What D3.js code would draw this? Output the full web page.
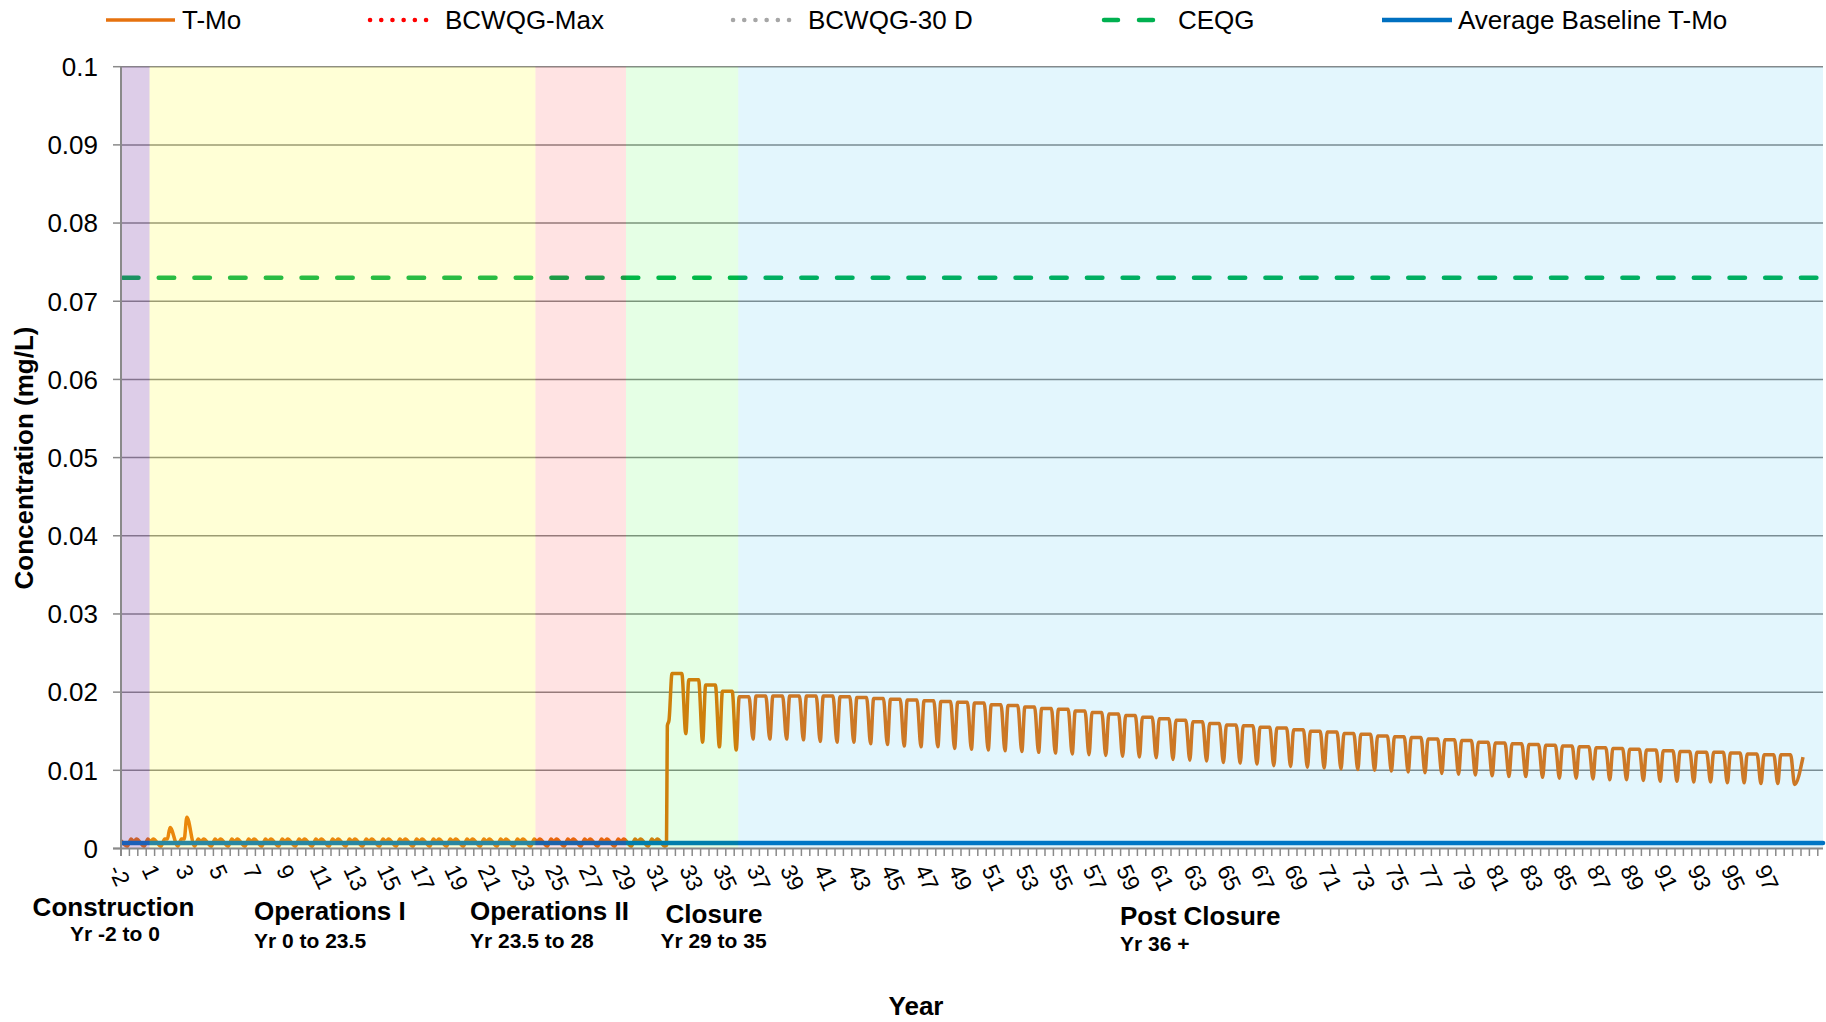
<!DOCTYPE html>
<html><head><meta charset="utf-8">
<script src="https://cdn.jsdelivr.net/npm/d3@7"></script>
<style>
html,body{margin:0;padding:0;background:#fff}
svg{display:block;font-family:"Liberation Sans",Arial,sans-serif}
</style>
</head><body>
<svg id="chart" width="1826" height="1022"></svg>
<script>
// ---------------- DATA ----------------
const yTicks = [0,0.01,0.02,0.03,0.04,0.05,0.06,0.07,0.08,0.09,0.1];
const yTickLabels = ["0","0.01","0.02","0.03","0.04","0.05","0.06","0.07","0.08","0.09","0.1"];
const xTickYears = [-2,0,2,4,6,8,10,12,14,16,18,20,22,24,26,28,30,32,34,36,38,40,42,44,46,48,50,52,54,56,58,60,62,64,66,68,70,72,74,76,78,80,82,84,86,88,90,92,94,96];
const xTickLabels = ["-2","1","3","5","7","9","11","13","15","17","19","21","23","25","27","29","31","33","35","37","39","41","43","45","47","49","51","53","55","57","59","61","63","65","67","69","71","73","75","77","79","81","83","85","87","89","91","93","95","97"];

const seriesNames = ["T-Mo","BCWQG-Max","BCWQG-30 D","CEQG","Average Baseline T-Mo"];
const phaseNames = ["Construction","Operations I","Operations II","Closure","Post Closure"];
const phaseRanges = ["Yr -2 to 0","Yr 0 to 23.5","Yr 23.5 to 28","Yr 29 to 35","Yr 36 +"];
const phaseBounds = [[-2,-0.3],[-0.3,22.67],[22.67,28.06],[28.06,34.74],[34.74,99.31]];

const baselineTMo = 0.0007;
const ceqgValue = 0.073;
const bcwqgMaxValue = 2.0;
const bcwqg30dValue = 1.0;

// T-Mo, operations period: one seasonal cycle per year
const preYears  = [-2,-1,0,1,2,3,4,5,6,7,8,9,10,11,12,13,14,15,16,17,18,19,20,21,22,23,24,25,26,27,28,29];
const preDip    = [0.0003,0.0003,0.0003,0.0003,0.0003,0.0003,0.0003,0.0003,0.0003,0.0003,0.0003,0.0003,0.0003,0.0003,0.0003,0.0003,0.0003,0.0003,0.0003,0.0003,0.0003,0.0003,0.0003,0.0003,0.0003,0.0003,0.0003,0.0003,0.0003,0.0003,0.0003,0.0003];
const preBump1  = [0.0012,0.0012,0.0012,0.0012,0.0012,0.0012,0.0012,0.0012,0.0012,0.0012,0.0012,0.0012,0.0012,0.0012,0.0012,0.0012,0.0012,0.0012,0.0012,0.0012,0.0012,0.0012,0.0012,0.0012,0.0012,0.0012,0.0012,0.0012,0.0012,0.0012,0.0012,0.0012];
const preMid    = [0.0009,0.0009,0.0012,0.0012,0.0009,0.0009,0.0009,0.0009,0.0009,0.0009,0.0009,0.0009,0.0009,0.0009,0.0009,0.0009,0.0009,0.0009,0.0009,0.0009,0.0009,0.0009,0.0009,0.0009,0.0009,0.0009,0.0009,0.0009,0.0009,0.0009,0.0009,0.0009];
const preBump2  = [0.0012,0.0012,0.0027,0.0040,0.0012,0.0012,0.0012,0.0012,0.0012,0.0012,0.0012,0.0012,0.0012,0.0012,0.0012,0.0012,0.0012,0.0012,0.0012,0.0012,0.0012,0.0012,0.0012,0.0012,0.0012,0.0012,0.0012,0.0012,0.0012,0.0012,0.0012,0.0012];
const startYear = -2, startValue = 0.0010;
// step up at closure
const jumpYears  = [30.38,30.47,30.52,30.62];
const jumpValues = [0.0003,0.0004,0.0157,0.0164];
// closure / post closure cycles
const cycleYears = [31,32,33,34,35,36,37,38,39,40,41,42,43,44,45,46,47,48,49,50,51,52,53,54,55,56,57,58,59,60,61,62,63,64,65,66,67,68,69,70,71,72,73,74,75,76,77,78,79,80,81,82,83,84,85,86,87,88,89,90,91,92,93,94,95,96,97];
const cyclePeak = [
 0.0224,0.0216,0.0209,0.0201,
 0.0194,0.0195,0.0195,0.0195,0.0195,0.0195,
 0.0194,0.0193,0.0192,0.0191,0.0190,
 0.0189,0.0188,0.0187,0.0186,0.0184,
 0.0183,0.0181,0.0179,0.0178,0.0176,
 0.0174,0.0172,0.0170,0.0168,0.0166,
 0.0164,0.0162,0.0160,0.0158,0.0157,
 0.0155,0.0154,0.0152,0.0150,0.0149,
 0.0147,0.0146,0.0144,0.0143,0.0142,
 0.0140,0.0139,0.0138,0.0136,0.0135,
 0.0134,0.0133,0.0132,0.0131,0.0130,
 0.0129,0.0128,0.0127,0.0126,0.0125,
 0.0124,0.0123,0.0123,0.0122,0.0121,
 0.0120,0.0120];
const cycleTrough = [
 0.0147,0.0136,0.0130,0.0126,
 0.0140,0.0140,0.0140,0.0139,0.0137,0.0136,
 0.0136,0.0134,0.0133,0.0131,0.0130,
 0.0130,0.0128,0.0127,0.0126,0.0125,
 0.0124,0.0123,0.0122,0.0121,0.0120,
 0.0119,0.0118,0.0117,0.0116,0.0114,
 0.0113,0.0112,0.0110,0.0109,0.0108,
 0.0106,0.0105,0.0104,0.0103,0.0102,
 0.0101,0.0100,0.0099,0.0098,0.0097,
 0.0096,0.0095,0.0094,0.0093,0.0092,
 0.0092,0.0091,0.0090,0.0090,0.0089,
 0.0088,0.0088,0.0087,0.0086,0.0086,
 0.0085,0.0085,0.0084,0.0084,0.0083,
 0.0083,0.0082];
const endYear = 98.12, endValue = 0.0117;

// ---------------- STYLES / LAYOUT ----------------
const colTMo = "#E6720E", colBase = "#0070C0", colCeqg = "#00B050", colMax = "#FF0000", colD30 = "#A6A6A6";
const bandColors = ["rgb(112,48,160)","rgb(255,255,0)","rgb(255,0,0)","rgb(0,255,0)","rgb(0,176,240)"];
const bandOpacity = [0.24,0.16,0.11,0.10,0.11];
const gridCol = "#898989";

const X0 = 121, X1 = 1823, Y0 = 848.5, Y1 = 66.7;
const svg = d3.select("#chart");
const x = d3.scaleLinear().domain([-2, 99.31]).range([X0, X1]);
const y = d3.scaleLinear().domain([0, 0.1]).range([Y0, Y1]);

svg.append("rect").attr("width",1826).attr("height",1022).attr("fill","#fff");
svg.append("defs").append("clipPath").attr("id","plotclip")
  .append("rect").attr("x",X0).attr("y",Y1-4).attr("width",X1-X0+3).attr("height",Y0-Y1+6);

// gridlines
svg.append("g").selectAll("line").data(yTicks.filter(d=>d>0)).join("line")
  .attr("x1",X0).attr("x2",X1).attr("y1",d=>y(d)).attr("y2",d=>y(d))
  .attr("stroke",gridCol).attr("stroke-width",1.5);

// build T-Mo series
const tmo = [[startYear,startValue]];
preYears.forEach((n,i)=>{
  tmo.push([n+0.38, preDip[i]]);
  tmo.push([n+0.60, preBump1[i]]);
  tmo.push([n+0.76, preMid[i]]);
  tmo.push([n+0.92, preBump2[i]]);
});
jumpYears.forEach((t,i)=>tmo.push([t, jumpValues[i]]));
cycleYears.forEach((n,i)=>{
  tmo.push([n-0.20, cyclePeak[i]]);
  tmo.push([n+0.38, cyclePeak[i]]);
  tmo.push([n+0.62, cycleTrough[i]]);
});
tmo.push([endYear,endValue]);

const lines = svg.append("g").attr("clip-path","url(#plotclip)");
const lineGen = d3.line().x(d=>x(d[0])).y(d=>y(d[1]));
lines.append("path").datum(tmo)
  .attr("d", lineGen.curve(d3.curveMonotoneX))
  .attr("fill","none").attr("stroke",colTMo).attr("stroke-width",3.5).attr("stroke-linejoin","round");
const dom = x.domain();
lines.append("path").datum([[dom[0],bcwqgMaxValue],[dom[1],bcwqgMaxValue]])
  .attr("d", d3.line().x(d=>x(d[0])).y(d=>y(d[1])))
  .attr("fill","none").attr("stroke",colMax).attr("stroke-width",4).attr("stroke-dasharray","0.1,8").attr("stroke-linecap","round");
lines.append("path").datum([[dom[0],bcwqg30dValue],[dom[1],bcwqg30dValue]])
  .attr("d", d3.line().x(d=>x(d[0])).y(d=>y(d[1])))
  .attr("fill","none").attr("stroke",colD30).attr("stroke-width",4).attr("stroke-dasharray","0.1,8").attr("stroke-linecap","round");
lines.append("path").datum([[dom[0],ceqgValue],[dom[1],ceqgValue]])
  .attr("d", d3.line().x(d=>x(d[0])+2).y(d=>y(d[1])))
  .attr("fill","none").attr("stroke",colCeqg).attr("stroke-width",4.5)
  .attr("stroke-dasharray","15.5,20.2").attr("stroke-linecap","round");
lines.append("path").datum([[dom[0],baselineTMo],[dom[1],baselineTMo]])
  .attr("d", d3.line().x(d=>x(d[0])).y(d=>y(d[1])))
  .attr("fill","none").attr("stroke",colBase).attr("stroke-width",4.5).attr("stroke-linecap","round");

// phase bands (translucent overlay)
svg.append("g").selectAll("rect").data(phaseBounds).join("rect")
  .attr("x",d=>x(d[0])).attr("width",d=>x(d[1])-x(d[0]))
  .attr("y",y(0.1)).attr("height",y(0)-y(0.1))
  .attr("fill",(d,i)=>bandColors[i]).attr("fill-opacity",(d,i)=>bandOpacity[i]);

// axes
const axCol = "#8a8a8a";
const ax = svg.append("g");
ax.append("line").attr("x1",X0).attr("x2",X0).attr("y1",Y1).attr("y2",Y0+7.5).attr("stroke",axCol).attr("stroke-width",2);
ax.append("line").attr("x1",X0-8).attr("x2",X1).attr("y1",Y0).attr("y2",Y0).attr("stroke",axCol).attr("stroke-width",2);
ax.selectAll(".yt").data(yTicks).join("line").attr("class","yt")
  .attr("x1",X0-8).attr("x2",X0).attr("y1",d=>y(d)).attr("y2",d=>y(d))
  .attr("stroke",axCol).attr("stroke-width",1.5);
const minor = d3.range(-2, 99.01, 0.5);
ax.selectAll(".xt").data(minor).join("line").attr("class","xt")
  .attr("x1",d=>x(d)).attr("x2",d=>x(d)).attr("y1",Y0).attr("y2",Y0+7.5)
  .attr("stroke",axCol).attr("stroke-width",1.5);

// y labels
svg.append("g").selectAll("text").data(yTicks).join("text")
  .attr("x",98).attr("y",d=>y(d)+9.3).attr("text-anchor","end")
  .attr("font-size",26).attr("fill","#000").text((d,i)=>yTickLabels[i]);

// x labels (rotated)
svg.append("g").selectAll("text").data(xTickYears).join("text")
  .attr("transform",d=>`translate(${x(d)-6},${866}) rotate(65)`)
  .attr("dominant-baseline","central")
  .attr("font-size",23).attr("fill","#000").text((d,i)=>xTickLabels[i]);

// axis titles
svg.append("text").attr("transform","translate(33,458) rotate(-90)")
  .attr("text-anchor","middle").attr("font-size",26).attr("font-weight","bold").text("Concentration (mg/L)");
svg.append("text").attr("x",916).attr("y",1015).attr("text-anchor","middle")
  .attr("font-size",26).attr("font-weight","bold").text("Year");

// phase labels
const phNameX = [113.5,254,470,714,1120], phNameY = [916,920,920,922.5,925];
const phRangeX = [115,254,470,713.5,1120], phRangeY = [940.5,947.5,948,947.5,950.5];
const phAnchor = ["middle","start","start","middle","start"];
const pg = svg.append("g").attr("font-weight","bold").attr("fill","#000");
phaseNames.forEach((s,i)=>{
  pg.append("text").attr("x",phNameX[i]).attr("y",phNameY[i]).attr("text-anchor",phAnchor[i]).attr("font-size",26).text(s);
  pg.append("text").attr("x",phRangeX[i]).attr("y",phRangeY[i]).attr("text-anchor",phAnchor[i]).attr("font-size",21).text(phaseRanges[i]);
});

// legend
const lg = svg.append("g");
const LY = 20;
const legendItems = [
  {x1:106,x2:175,tx:182,col:colTMo,w:3.5,dash:null,cap:"butt"},
  {x1:370,x2:437,tx:445,col:colMax,w:4.5,dash:"0.1,11.1",cap:"round"},
  {x1:733,x2:800,tx:808,col:colD30,w:4.5,dash:"0.1,11.1",cap:"round"},
  {x1:1104,x2:1154,tx:1178,col:colCeqg,w:4.5,dash:"14,21",cap:"round"},
  {x1:1382,x2:1452,tx:1458,col:colBase,w:4.5,dash:null,cap:"butt"}
];
legendItems.forEach((it,i)=>{
  const l = lg.append("line").attr("x1",it.x1).attr("x2",it.x2).attr("y1",LY).attr("y2",LY)
    .attr("stroke",it.col).attr("stroke-width",it.w).attr("stroke-linecap",it.cap);
  if(it.dash) l.attr("stroke-dasharray",it.dash);
  lg.append("text").attr("x",it.tx).attr("y",LY+9.3).attr("font-size",26).attr("fill","#000").text(seriesNames[i]);
});
</script>
</body></html>
